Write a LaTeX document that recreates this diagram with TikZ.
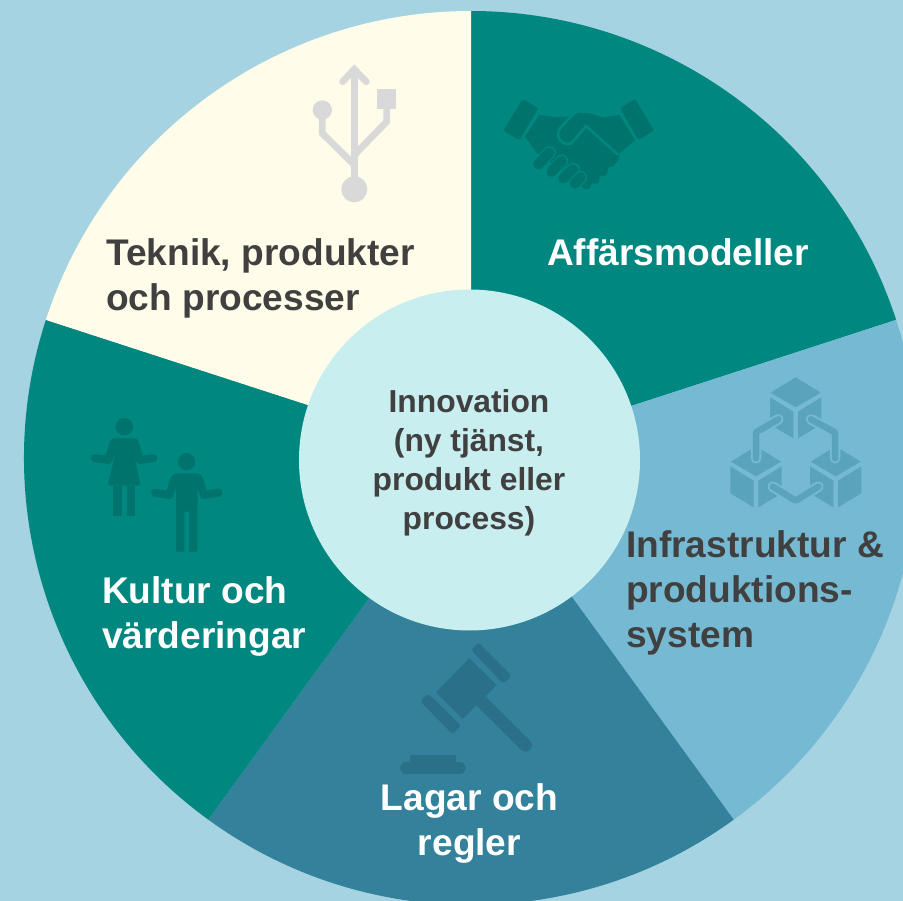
\documentclass[tikz,border=0pt]{standalone}
\usepackage{fontspec}
\setmainfont{Liberation Sans}
\definecolor{bgblue}{HTML}{A5D3E2}
\definecolor{teal}{HTML}{00877F}
\definecolor{tealdark}{HTML}{00736D}
\definecolor{cream}{HTML}{FFFDE9}
\definecolor{skyblue}{HTML}{75B9D2}
\definecolor{skydark}{HTML}{5AA3BC}
\definecolor{seablue}{HTML}{34819C}
\definecolor{seadark}{HTML}{2B7089}
\definecolor{hubblue}{HTML}{C9EEF0}
\definecolor{usbgrey}{HTML}{D9D9D9}
\definecolor{inktext}{HTML}{404040}
\begin{document}
\begin{tikzpicture}[x=1pt,y=-1pt,
lbl/.style={font=\fontsize{37.1}{45}\selectfont\bfseries,inner sep=0pt,align=left},
hub/.style={font=\fontsize{31.8}{39}\selectfont\bfseries,inner sep=0pt,align=center,text=inktext},
limb/.style={line width=8pt,line cap=round,line join=round}]
\useasboundingbox (0,0) rectangle (903,901);
\clip (0,0) rectangle (903,901);
\fill[bgblue] (0,0) rectangle (903,901);
% sectors
\fill[teal] (471,458) -- +(-90:447) arc[start angle=-90,end angle=-18,radius=447] -- cycle;
\fill[skyblue] (471,458) -- +(-18:447) arc[start angle=-18,end angle=54,radius=447] -- cycle;
\fill[seablue] (471,458) -- +(54:447) arc[start angle=54,end angle=126,radius=447] -- cycle;
\fill[teal] (471,458) -- +(126:447) arc[start angle=126,end angle=198,radius=447] -- cycle;
\fill[cream] (471,458) -- +(198:447) arc[start angle=198,end angle=270,radius=447] -- cycle;
\node[circle,fill=hubblue,minimum size=341pt,inner sep=0pt] (innovation) at (469.5,460) {};
% usb
\begin{scope}[shift={(290,50)},scale=1/3,usbgrey,line width=6.8pt]
\fill (193,418) circle[radius=39];
\fill (97,180) circle[radius=29];
\fill (262,118) rectangle (319,176);
\draw (193,418) -- (193,60);
\draw[line cap=round,line join=miter] (158,95) -- (193,58) -- (229,95);
\draw (97,180) -- (97,250) -- (193,345);
\draw (290,176) -- (290,215) -- (193,315);
\end{scope}
% handshake
\begin{scope}[shift={(490,80)},scale=1/3]
\fill[tealdark,rounded corners=2pt] (98,57) -- (145,85) -- (88,180) -- (40,152) -- cycle;
\fill[tealdark,rounded corners=2pt] (435,57) -- (390,85) -- (445,180) -- (492,152) -- cycle;
\fill[tealdark] (148,105) -- (200,112) -- (250,108) -- (265,98) -- (300,100) -- (340,113) -- (388,105) -- (435,180) -- (386,222)
 -- (385,240) -- (370,258) -- (355,262) -- (350,285) -- (330,290) -- (325,310) -- (305,310) -- (300,325) -- (285,328) -- (240,290) -- (140,218) -- (105,170) -- cycle;
\draw[teal,line width=2.6pt,line join=round] (384,224) -- (288,138) -- (248,186) .. controls (238,196) and (222,194) .. (210,180) .. controls (200,168) and (204,152) .. (212,142) -- (250,102);
\foreach \xa/\ya/\xb/\yb in {178/218/145/253,215/243/185/275,250/268/220/295,272/292/255/310}{
\draw[teal,line width=13pt,line cap=round] (\xa,\ya) -- (\xb,\yb);
\draw[tealdark,line width=10.4pt,line cap=round] (\xa,\ya) -- (\xb,\yb);
}
\end{scope}
% blocks
\begin{scope}[shift={(720,370)},scale=1/3]
\foreach \dx/\dy in {0/0,-119/207,120/207}{
\begin{scope}[shift={(\dx,\dy)}]
\fill[skydark] (227,22) -- (302,68) -- (227,112) -- (152,68) -- cycle;
\fill[skydark] (150,82) -- (220,125) -- (220,205) -- (150,163) -- cycle;
\fill[skydark] (304,82) -- (234,125) -- (234,205) -- (304,163) -- cycle;
\end{scope}
}
\foreach \pth in {{(175,148) -- (108,187) -- (108,265)},{(273,148) -- (345,187) -- (345,265)},{(158,350) -- (227,392) -- (295,350)}}{
\draw[skyblue,line width=10.5pt,line cap=round,line join=round] \pth;
\draw[skydark,line width=6.5pt,line cap=round,line join=round] \pth;
}
\end{scope}
% gavel
\begin{scope}[shift={(390,635)},scale=1/3,seadark]
\fill (238,70) -- (320,150) -- (218,252) -- (138,172) -- cycle;
\fill[rounded corners=3pt] (243,45) -- (265,22) -- (365,122) -- (340,147) -- cycle;
\fill[rounded corners=3pt] (90,198) -- (115,176) -- (213,272) -- (188,298) -- cycle;
\draw[line width=12.5pt,line cap=round] (270,195) -- (407,331);
\draw[line width=12.5pt,line cap=round] (49,399) -- (209,399);
\fill (60,360) rectangle (198,385);
\end{scope}
% people
\begin{scope}[shift={(80,410)},scale=1/3,tealdark]
\fill (133,50) circle[radius=26];
\fill[rounded corners=3pt] (92,85) -- (175,85) -- (162,135) -- (182,227) -- (83,227) -- (105,135) -- cycle;
\draw[limb] (45,145) -- (86,150) -- (100,100);
\draw[limb] (220,145) -- (179,150) -- (165,100);
\fill (100,227) rectangle (125,318);
\fill (140,227) rectangle (165,318);
\fill (320,155) circle[radius=26];
\fill[rounded corners=3pt] (280,190) -- (360,190) -- (352,240) -- (352,300) -- (288,300) -- (288,240) -- cycle;
\fill (288,250) -- (352,250) -- (352,425) -- (327,425) -- (327,305) -- (313,305) -- (313,425) -- (288,425) -- cycle;
\draw[limb] (225,248) -- (268,255) -- (284,205);
\draw[limb] (415,248) -- (372,255) -- (356,205);
\end{scope}
% labels
\node[lbl,text=inktext,anchor=base west] (teknik) at (106,311) {Teknik, produkter\\och processer};
\node[lbl,text=white,anchor=base west] (affar) at (547,266) {Affärsmodeller};
\node[lbl,text=inktext,anchor=base west] (infra) at (626,647) {Infrastruktur \&\\produktions-\\system};
\node[lbl,text=white,anchor=base,align=center] (lagar) at (469.5,855) {Lagar och\\regler};
\node[lbl,text=white,anchor=base west] (kultur) at (102,648) {Kultur och\\värderingar};
\node[hub,anchor=base] (hubtext) at (469,529) {Innovation\\(ny tjänst,\\produkt eller\\process)};
\end{tikzpicture}
\end{document}
